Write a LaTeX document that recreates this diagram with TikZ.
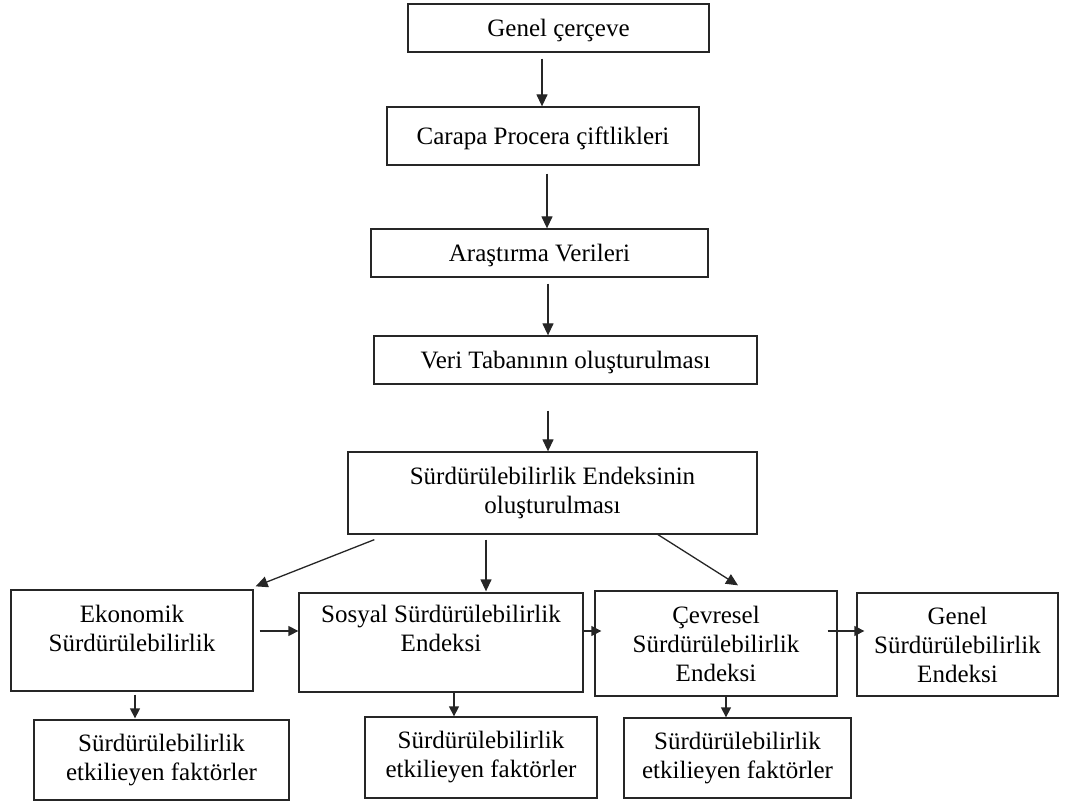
\documentclass[tikz,border=0pt]{standalone}
\usepackage{fontspec}
\setmainfont{Liberation Serif}
\usetikzlibrary{arrows.meta}
\begin{document}
\begin{tikzpicture}[x=1pt,y=-1pt,
  box/.style={draw=black!85, line width=1.3pt, inner sep=0pt, align=center,
    font=\fontsize{25}{29}\selectfont},
  onebox/.style={box, text depth=0pt},
  txt/.style={inner sep=0pt, align=center, font=\fontsize{25}{29}\selectfont},
  arr/.style={draw=black!85, line width=1.3pt, -{Triangle[length=12pt,width=11pt]}},
  sarr/.style={draw=black!85, line width=1.3pt, -{Triangle[length=10pt,width=10pt]}}]
\useasboundingbox (0,0) rectangle (1080,802);
% top chain
\node[onebox, minimum width=301pt, minimum height=48pt] (b1) at (558.5,28) {Genel çerçeve};
\node[onebox, minimum width=312pt, minimum height=58pt] (b2) at (543,136) {Carapa Procera çiftlikleri};
\node[onebox, minimum width=337pt, minimum height=48pt] (b3) at (539.5,253) {Araştırma Verileri};
\node[onebox, minimum width=383pt, minimum height=48pt] (b4) at (565.5,360) {Veri Tabanının oluşturulması};
\node[box, minimum width=409pt, minimum height=82pt] (b5) at (552.5,493) {Sürdürülebilirlik Endeksinin\\oluşturulması};
% index boxes
\node[box, minimum width=242pt, minimum height=101pt] (eko) at (132,640.5) {};
\node[txt, anchor=north] at ([yshift=-16pt]eko.north) {Ekonomik\\Sürdürülebilirlik};
\node[box, minimum width=284pt, minimum height=99pt] (sos) at (441,642.5) {};
\node[txt, anchor=north] at ([yshift=-13pt]sos.north) {Sosyal Sürdürülebilirlik\\Endeksi};
\node[box, minimum width=242pt, minimum height=105pt] (cev) at (716,643.5) {Çevresel\\Sürdürülebilirlik\\Endeksi};
\node[box, minimum width=201pt, minimum height=103pt] (gen) at (957.5,644.5) {Genel\\Sürdürülebilirlik\\Endeksi};
% factor boxes
\node[box, minimum width=255pt, minimum height=80pt] (fa) at (161.5,760) {Sürdürülebilirlik\\etkilieyen faktörler};
\node[box, minimum width=232pt, minimum height=81pt] (fb) at (481,757.5) {Sürdürülebilirlik\\etkilieyen faktörler};
\node[box, minimum width=227pt, minimum height=80pt] (fc) at (737.5,758) {Sürdürülebilirlik\\etkilieyen faktörler};
% vertical chain arrows
\draw[arr] ([xshift=-16.5pt,yshift=-6pt]b1.south) -- ([xshift=-1pt]b2.north);
\draw[arr] ([xshift=4pt,yshift=-8pt]b2.south) -- ([xshift=7.5pt]b3.north);
\draw[arr] ([xshift=8.5pt,yshift=-6pt]b3.south) -- ([xshift=-17.5pt]b4.north);
\draw[arr] ([xshift=-17.5pt,yshift=-26pt]b4.south) -- ([xshift=-4.5pt]b5.north);
% branching
\draw[arr] ([xshift=27pt,yshift=-5pt]b5.south west) -- ([xshift=2pt,yshift=3pt]eko.north east);
\draw[arr] ([xshift=-66.5pt,yshift=-5pt]b5.south) -- ([xshift=45pt,yshift=1pt]sos.north);
\draw[arr] ([xshift=105.5pt]b5.south) -- ([xshift=22pt,yshift=5pt]cev.north);
% horizontal
\draw[sarr] ([xshift=6pt,yshift=9.5pt]eko.east) -- ([yshift=11.5pt]sos.west);
\draw[sarr] ([yshift=11.5pt]sos.east) -- ([xshift=7pt,yshift=12.5pt]cev.west);
\draw[sarr] ([xshift=-10pt,yshift=12.5pt]cev.east) -- ([xshift=8pt,yshift=13.5pt]gen.west);
% down to factors
\draw[sarr] ([xshift=3pt,yshift=-3pt]eko.south) -- ([xshift=-26.5pt,yshift=1pt]fa.north);
\draw[sarr] ([xshift=13pt]sos.south) -- ([xshift=-27pt]fb.north);
\draw[sarr] ([xshift=10pt]cev.south) -- ([xshift=-11.5pt]fc.north);
\end{tikzpicture}
\end{document}
